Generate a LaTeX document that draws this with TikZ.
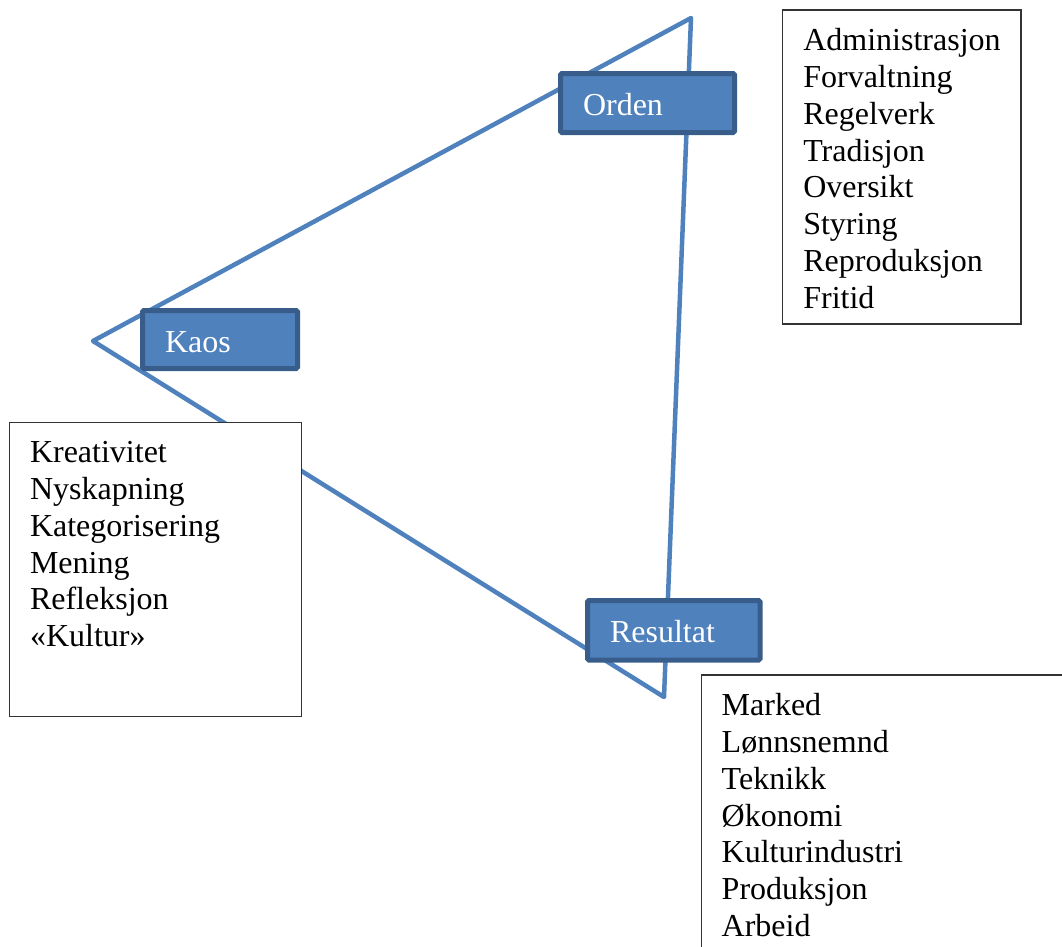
\documentclass[tikz,border=0pt]{standalone}
\usepackage{fontspec}
\setmainfont{Liberation Serif}
\definecolor{triblue}{HTML}{4F81BD}
\definecolor{boxedge}{HTML}{385D8A}
\definecolor{listedge}{HTML}{333333}
\tikzset{
  tri/.style={draw=triblue, line width=4.5, line join=round},
  label/.style={draw=boxedge, fill=triblue, line width=5, rounded corners=1.5,
    text=white, font=\fontsize{32}{36.8}\selectfont, align=left,
    inner xsep=22.5, inner ysep=0, outer sep=0, anchor=base west},
  listbox/.style={draw=listedge, fill=white, line width=1.5, anchor=north west,
    inner sep=0, outer sep=0},
  listtext/.style={font=\fontsize{32}{36.8}\selectfont, align=left, inner sep=0,
    outer sep=0, anchor=north west}
}
\begin{document}
\begin{tikzpicture}[x=1pt, y=-1pt]
\useasboundingbox (0,0) rectangle (1062,946);
\clip (0,0) rectangle (1062,946);
% triangle corners
\coordinate (top) at (691,18);
\coordinate (left) at (93,341);
\coordinate (bottom) at (664,697);
\draw[tri] (top) -- (left) -- (bottom) -- cycle;
% labels
\node[label, text width=129, text height=41.5, text depth=17.5] (orden) at (560.5,115) {Orden};
\node[label, text width=110, text height=42.2, text depth=15.8] (kaos) at (142.5,352.7) {Kaos};
\node[label, text width=127.5, text height=42.2, text depth=17.3] (resultat) at (587.5,642.7) {Resultat};
% list boxes
\node[listbox, minimum width=238.3, minimum height=314] (b1) at (782.7,10) {};
\node[listtext] (t1) at (803.3,28.5) {Administrasjon\\Forvaltning\\Regelverk\\Tradisjon\\Oversikt\\Styring\\Reproduksjon\\Fritid};
\node[listbox, minimum width=292.4, minimum height=294.4] (b2) at (9.3,422.3) {};
\node[listtext] (t2) at (30,441.5) {Kreativitet\\Nyskapning\\Kategorisering\\Mening\\Refleksjon\\«Kultur»};
\node[listbox, minimum width=400, minimum height=300] (b3) at (701.7,675) {};
\node[listtext] (t3) at (721.7,693.5) {Marked\\Lønnsnemnd\\Teknikk\\Økonomi\\Kulturindustri\\Produksjon\\Arbeid};
\end{tikzpicture}
\end{document}
